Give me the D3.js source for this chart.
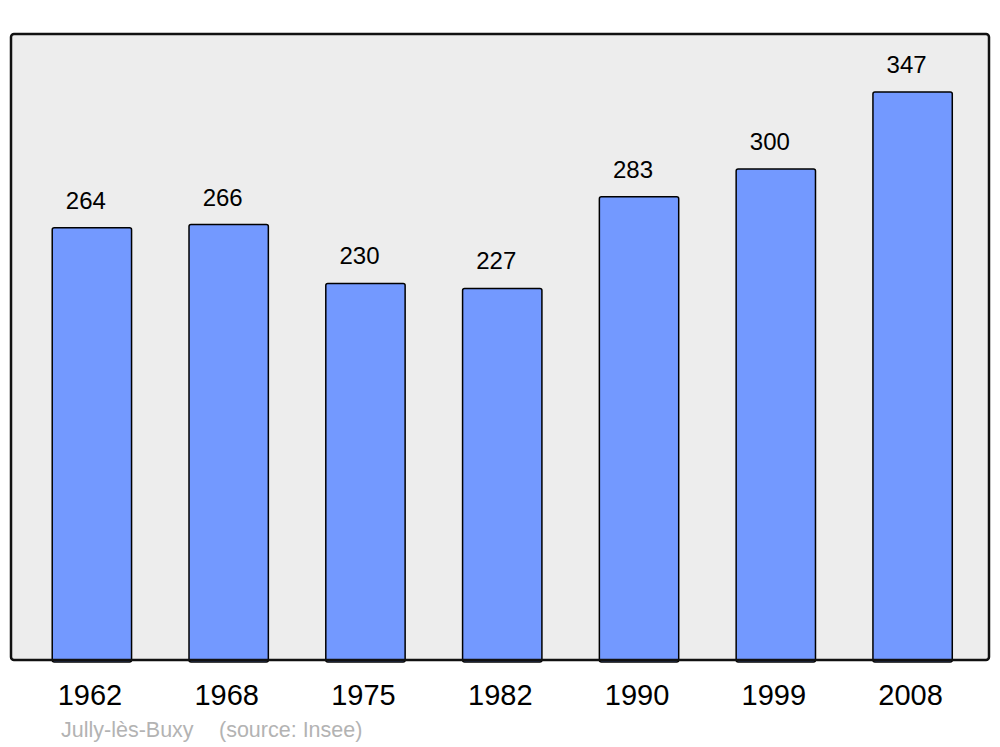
<!DOCTYPE html>
<html>
<head>
<meta charset="utf-8">
<script src="https://cdn.jsdelivr.net/npm/d3@7"></script>
<style>
  body { margin: 0; background: #fff; }
  svg { display: block; font-family: "Liberation Sans", Arial, sans-serif; }
</style>
</head>
<body>
<svg id="chart"></svg>
<script>
// Population by census year
const years = ["1962", "1968", "1975", "1982", "1990", "1999", "2008"];
const population = [264, 266, 230, 227, 283, 300, 347];
const townName = "Jully-lès-Buxy";
const sourceLabel = "(source: Insee)";

const width = 1000;
const height = 747;

// plot frame
const frame = { left: 11, top: 34, right: 989, bottom: 660 };

const svg = d3.select("#chart")
  .attr("width", width)
  .attr("height", height);

svg.append("rect")
  .attr("x", frame.left)
  .attr("y", frame.top)
  .attr("width", frame.right - frame.left)
  .attr("height", frame.bottom - frame.top)
  .attr("rx", 3)
  .attr("fill", "#ededed");

const x = d3.scaleBand()
  .domain(years)
  .range([23.5, 981])
  .paddingInner(0.42)
  .paddingOuter(0.21);

const y = d3.scaleLinear()
  .domain([0, 382.4])
  .range([frame.bottom, frame.top]);

// bars
svg.selectAll(".bar")
  .data(years)
  .join("rect")
  .attr("class", "bar")
  .attr("x", d => x(d))
  .attr("y", (d, i) => y(population[i]))
  .attr("width", x.bandwidth())
  .attr("height", (d, i) => frame.bottom - y(population[i]) + 2)
  .attr("rx", 2)
  .attr("fill", "#7399ff")
  .attr("stroke", "#000")
  .attr("stroke-width", 1.5);

// value labels above bars (sit a little left of the bar centre)
svg.selectAll(".value")
  .data(years)
  .join("text")
  .attr("class", "value")
  .attr("x", d => x(d) + x.bandwidth() / 2 - 6)
  .attr("y", (d, i) => y(population[i]) - 19)
  .attr("text-anchor", "middle")
  .attr("font-size", 24)
  .attr("fill", "#000")
  .text((d, i) => population[i]);

// frame border drawn on top so bars sit inside it
svg.append("rect")
  .attr("x", frame.left)
  .attr("y", frame.top)
  .attr("width", frame.right - frame.left)
  .attr("height", frame.bottom - frame.top)
  .attr("rx", 3)
  .attr("fill", "none")
  .attr("stroke", "#111")
  .attr("stroke-width", 2.5);

// year labels
const xAxis = svg.append("g")
  .attr("transform", `translate(-2,${frame.bottom})`)
  .call(d3.axisBottom(x).tickSize(0).tickPadding(0));
xAxis.select(".domain").remove();
xAxis.selectAll("text")
  .attr("dy", null)
  .attr("y", 45)
  .attr("font-family", "Liberation Sans, Arial, sans-serif")
  .attr("font-size", 29)
  .attr("fill", "#000");

// footer
svg.append("text")
  .attr("x", 61)
  .attr("y", 737)
  .attr("font-size", 21.5)
  .attr("fill", "#b3b3b3")
  .text(townName);

svg.append("text")
  .attr("x", 219)
  .attr("y", 737)
  .attr("font-size", 21.5)
  .attr("fill", "#b3b3b3")
  .text(sourceLabel);
</script>
</body>
</html>
